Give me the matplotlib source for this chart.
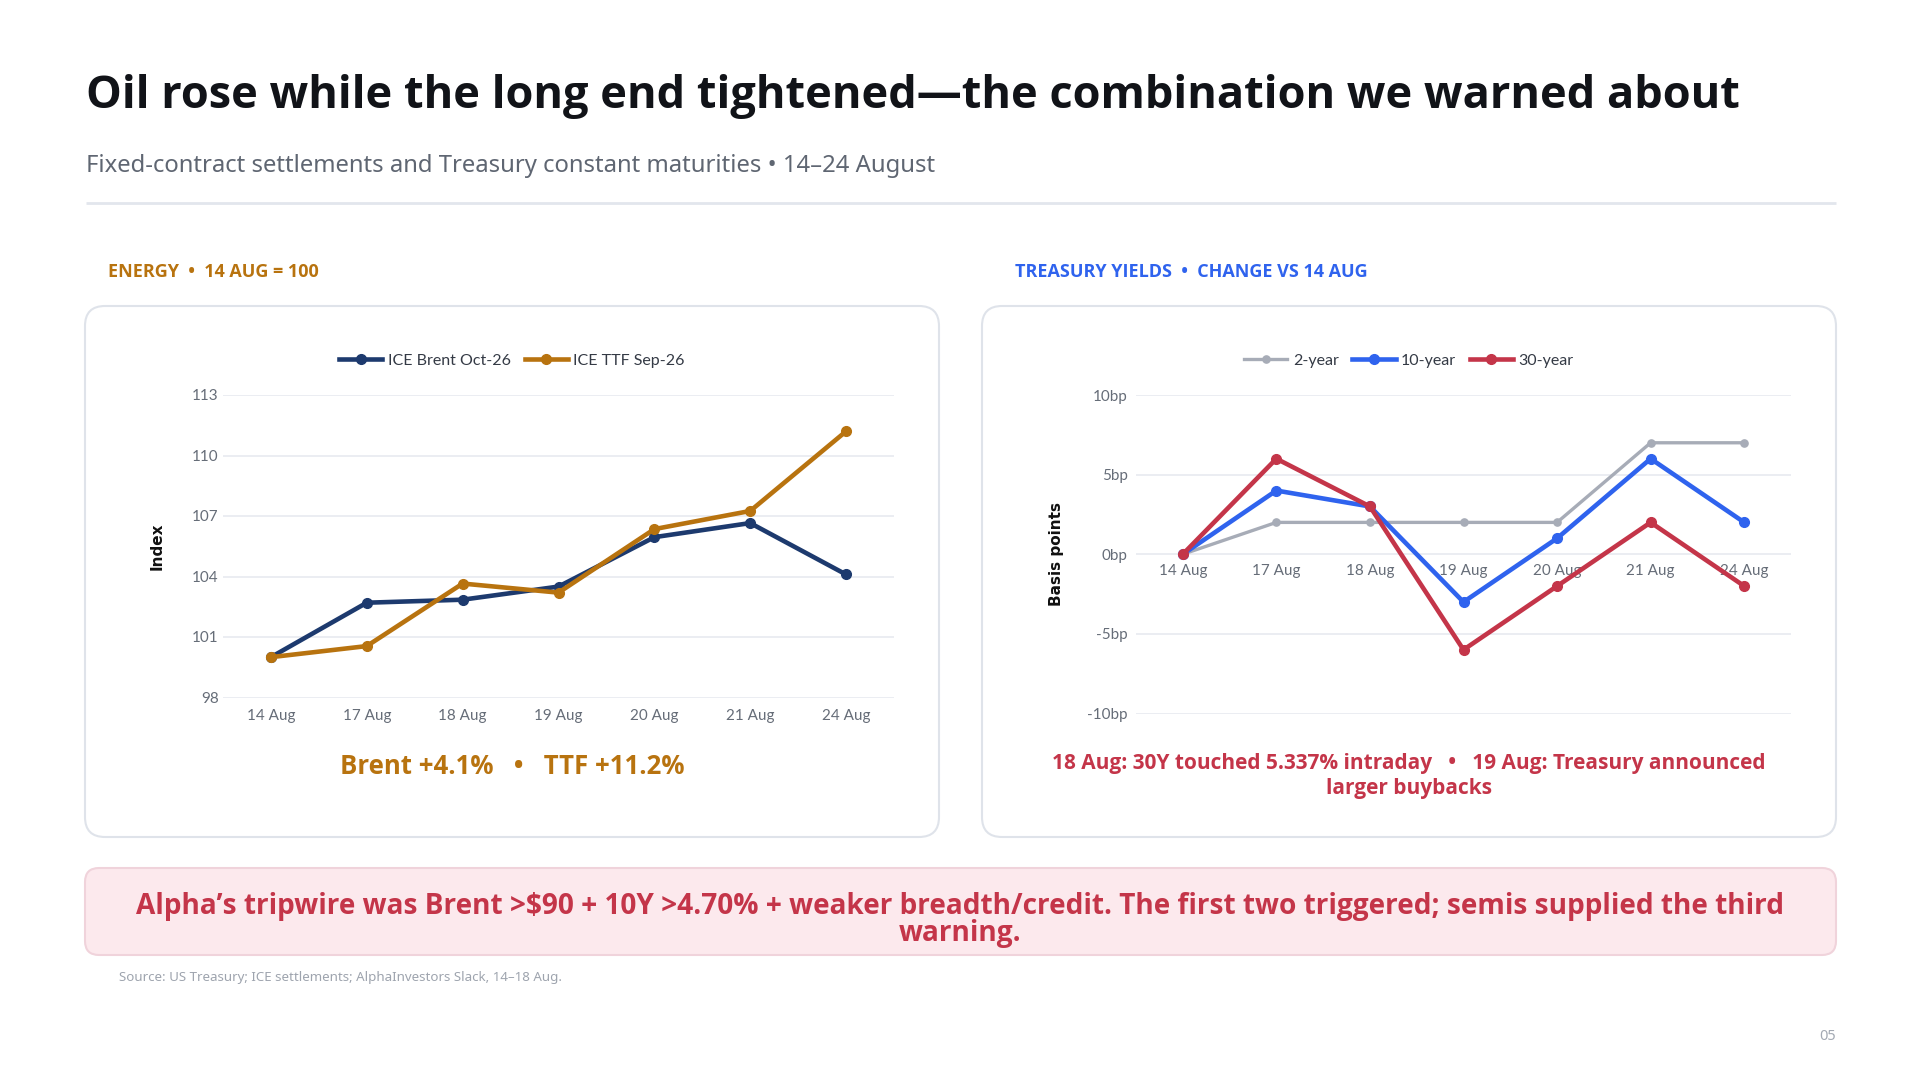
import matplotlib
matplotlib.use("Agg")
import matplotlib.pyplot as plt
from matplotlib import font_manager
from matplotlib.patches import FancyBboxPatch

# ---------------- data ----------------
dates = ["14 Aug", "17 Aug", "18 Aug", "19 Aug", "20 Aug", "21 Aug", "24 Aug"]
brent = [100.0, 102.7, 102.85, 103.5, 105.95, 106.65, 104.1]
ttf = [100.0, 100.55, 103.65, 103.2, 106.35, 107.25, 111.2]
y2 = [0, 2, 2, 2, 2, 7, 7]
y10 = [0, 4, 3, -3, 1, 6, 2]
y30 = [0, 6, 3, -6, -2, 2, -2]
energy_ticks = [98, 101, 104, 107, 110, 113]
bp_ticks = [-10, -5, 0, 5, 10]
bp_labels = ["-10bp", "-5bp", "0bp", "5bp", "10bp"]

title = "Oil rose while the long end tightened\u2014the combination we warned about"
subtitle = "Fixed-contract settlements and Treasury constant maturities \u2022 14\u201324 August"
left_label = "ENERGY  \u2022  14 AUG = 100"
right_label = "TREASURY YIELDS  \u2022  CHANGE VS 14 AUG"
left_note = "Brent +4.1%   \u2022   TTF +11.2%"
right_note = "18 Aug: 30Y touched 5.337% intraday   \u2022   19 Aug: Treasury announced\nlarger buybacks"
callout = ("Alpha\u2019s tripwire was Brent >$90 + 10Y >4.70% + weaker breadth/credit. "
           "The first two triggered; semis supplied the third\nwarning.")
source = "Source: US Treasury; ICE settlements; AlphaInvestors Slack, 14\u201318 Aug."
page = "05"

# ---------------- style ----------------
C_BRENT = "#1d3a6e"
C_TTF = "#b8730f"
C_2Y = "#a7acb7"
C_10Y = "#2f63ee"
C_30Y = "#c43549"
C_GRID = "#e7eaf0"
C_TICK = "#666d78"
C_BORDER = "#dfe3ea"

# pick a sans family that really has a bold face installed
_weights = {}
for f in font_manager.fontManager.ttflist:
    w = f.weight if isinstance(f.weight, int) else {"bold": 700, "normal": 400}.get(str(f.weight), 400)
    _weights.setdefault(f.name, set()).add(w)
BOLD_FAM = "DejaVu Sans"
for cand in ["Noto Sans", "Open Sans", "Lato", "Roboto", "Inter", "Liberation Sans"]:
    if any(w >= 600 for w in _weights.get(cand, ())):
        BOLD_FAM = cand
        break
SANS = ["Noto Sans", "DejaVu Sans"]
SANSB = [BOLD_FAM, "DejaVu Sans"]
CHART = ["Lato", "DejaVu Sans"]

W, H = 1921, 1080
fig = plt.figure(figsize=(W / 100, H / 100), dpi=100)
fig.patch.set_facecolor("white")

bg = fig.add_axes([0, 0, 1, 1])
bg.set_xlim(0, W)
bg.set_ylim(H, 0)
bg.axis("off")

bg.text(86, 108, title, fontsize=32.5, fontweight="bold", family=SANSB, color="#111318", va="baseline")
bg.text(86, 172, subtitle, fontsize=17.2, family=SANS, color="#5f6672", va="baseline")
bg.plot([86, 1836], [203, 203], color="#e2e6ed", lw=2, solid_capstyle="butt")

bg.text(108, 272, left_label, fontsize=13, fontweight="bold", family=SANSB, color=C_TTF, va="center")
bg.text(1015, 272, right_label, fontsize=13, fontweight="bold", family=SANSB, color=C_10Y, va="center")

for x0 in (85, 982):
    card = FancyBboxPatch((x0, 306), 854, 531, boxstyle="round,pad=0,rounding_size=20",
                          fc="white", ec=C_BORDER, lw=1.5)
    bg.add_patch(card)

box = FancyBboxPatch((85, 868), 1751, 87, boxstyle="round,pad=0,rounding_size=14",
                     fc="#fce9ed", ec="#f0d3db", lw=1.5)
bg.add_patch(box)
bg.text(960, 920, callout, fontsize=20.2, fontweight="bold", family=SANSB, color=C_30Y,
        ha="center", va="center", linespacing=0.95)

bg.text(119, 978, source, fontsize=9.6, family=SANS, color="#9ea4ae", va="center")
bg.text(1836, 1037, page, fontsize=10.5, family=SANS, color="#a3a9b3", va="center", ha="right")

bg.text(512, 767, left_note, fontsize=18.5, fontweight="bold", family=SANSB, color=C_TTF,
        ha="center", va="center")
bg.text(1409, 776, right_note, fontsize=15, fontweight="bold", family=SANSB, color=C_30Y,
        ha="center", va="center", linespacing=1.25)


def px_axes(x0, y0, x1, y1):
    return fig.add_axes([x0 / W, 1 - y1 / H, (x1 - x0) / W, (y1 - y0) / H])


def style(ax):
    for s in ax.spines.values():
        s.set_visible(False)
    ax.grid(axis="y", color=C_GRID, lw=1.2)
    ax.set_axisbelow(True)
    ax.tick_params(length=0, labelsize=11, labelcolor=C_TICK)
    for lab in ax.get_xticklabels() + ax.get_yticklabels():
        lab.set_family(CHART)
    ax.set_facecolor("none")


# ---------------- left chart ----------------
x = list(range(len(dates)))
axL = px_axes(223, 395, 894, 697.5)
axL.plot(x, brent, color=C_BRENT, lw=3.3, marker="o", ms=7, zorder=3, label="ICE Brent Oct-26")
axL.plot(x, ttf, color=C_TTF, lw=3.3, marker="o", ms=7, zorder=4, label="ICE TTF Sep-26")
axL.set_xlim(-0.5, 6.5)
axL.set_ylim(98, 113)
axL.set_yticks(energy_ticks)
axL.set_xticks(x)
axL.set_xticklabels(dates)
axL.tick_params(axis="x", pad=8)
axL.tick_params(axis="y", pad=3)
style(axL)
axL.set_ylabel("Index", fontsize=11, fontweight="bold", family=["DejaVu Sans"], color="#111", labelpad=20)

# ---------------- right chart ----------------
axR = px_axes(1136, 395, 1791, 713.5)
axR.plot(x, y2, color=C_2Y, lw=2.4, marker="o", ms=5.2, zorder=3, label="2-year")
axR.plot(x, y10, color=C_10Y, lw=3.3, marker="o", ms=7, zorder=4, label="10-year")
axR.plot(x, y30, color=C_30Y, lw=3.3, marker="o", ms=7, zorder=5, label="30-year")
axR.set_xlim(-0.5, 6.5)
axR.set_ylim(-10, 10)
axR.set_yticks(bp_ticks)
axR.set_yticklabels(bp_labels)
axR.set_xticks(x)
axR.set_xticklabels(dates)
axR.spines["bottom"].set_position(("data", 0))
axR.tick_params(axis="x", pad=7)
axR.tick_params(axis="y", pad=6)
style(axR)
axR.set_ylabel("Basis points", fontsize=11, fontweight="bold", family=["DejaVu Sans"], color="#111", labelpad=17)

# ---------------- legends ----------------
def legend(ax, cx):
    h, l = ax.get_legend_handles_labels()
    leg = fig.legend(h, l, loc="center", bbox_to_anchor=(cx / W, 1 - 361 / H), ncol=len(h),
                     frameon=False, handlelength=2.7, handletextpad=0.35, columnspacing=0.85,
                     prop={"family": CHART, "size": 11.5})
    for t in leg.get_texts():
        t.set_color("#343a45")
    return leg

legend(axL, 512)
legend(axR, 1409)

fig.savefig("out.png", dpi=100, facecolor="white")
